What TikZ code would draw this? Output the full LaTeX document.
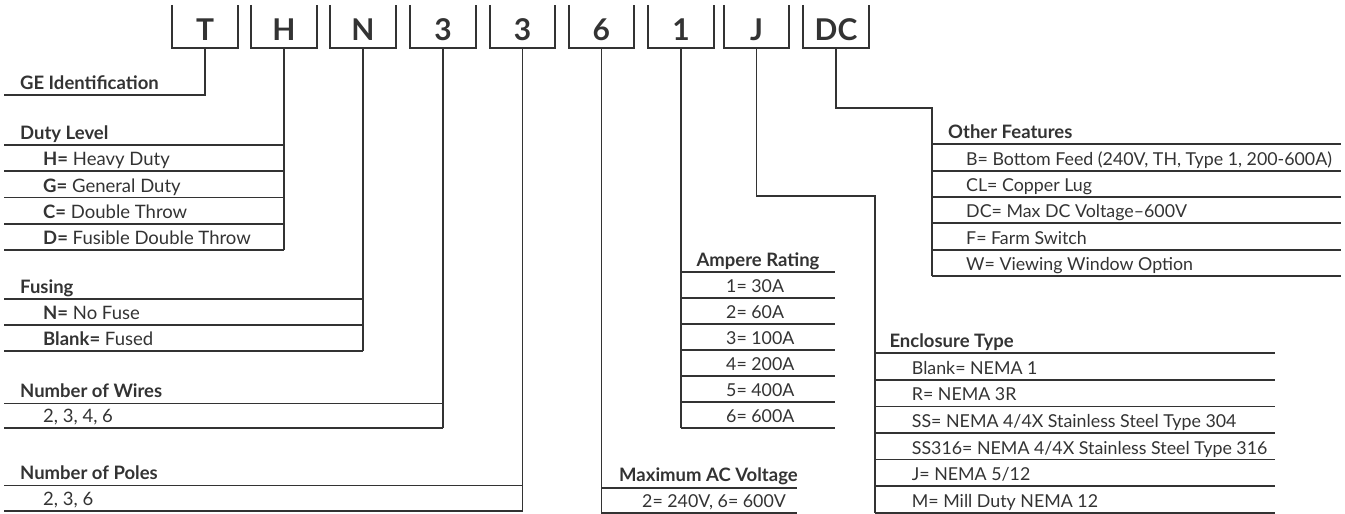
\documentclass[tikz,border=0pt]{standalone}
\usepackage{fontspec}
\setmainfont{Lato}
\definecolor{ink}{HTML}{333333}
\begin{document}
\begin{tikzpicture}[x=1pt,y=-1pt,
  ln/.style={draw=ink,line width=1.8pt},
  topbox/.style={font=\fontsize{30}{30}\selectfont\bfseries,text=ink,text height=35.7pt,text depth=7pt,inner sep=0pt,minimum width=65pt},
  hdr/.style={font=\fontsize{18.5}{20}\selectfont\bfseries,text=ink,anchor=base west,inner sep=0pt},
  hdrc/.style={hdr,anchor=base},
  row/.style={font=\fontsize{18.5}{20}\selectfont,text=ink,anchor=base west,inner sep=0pt},
  rowr/.style={row,font=\fontsize{17.8}{20}\selectfont}]
\useasboundingbox (0,0) rectangle (1345,514);
% top code boxes
\node[topbox] (bT)  at (205,26.35)   {T};
\node[topbox] (bH)  at (284,26.35)   {H};
\node[topbox] (bN)  at (363,26.35)   {N};
\node[topbox] (b3a) at (443,26.35)   {3};
\node[topbox] (b3b) at (522.5,26.35) {3};
\node[topbox] (b6)  at (601.4,26.35) {6};
\node[topbox] (b1)  at (681,26.35)   {1};
\node[topbox] (bJ)  at (756.5,26.35) {J};
\node[topbox] (bDC) at (836,26.35)   {DC};
\foreach \b in {bT,bH,bN,b3a,b3b,b6,b1,bJ,bDC}
  \draw[ln] (\b.north west) -- (\b.south west) -- (\b.south east) -- (\b.north east);

% GE Identification
\coordinate (geL) at (4,95);
\draw[ln] (bT.south) |- (geL);
\node[hdr] (hGE) at (20,89) {GE Identification};

% Duty Level
\draw[ln] (bH.south) -- (bH.south |- 0,250);
\foreach \y in {145,171.25,197.5,223.75,250}
  \draw[ln] (4,\y) -- (bH.south |- 0,\y);
\node[hdr] (hDuty) at (20,139) {Duty Level};
\node[row] (d1) at (43,165.75) {\textbf{H=} Heavy Duty};
\node[row] (d2) at (43,192)    {\textbf{G=} General Duty};
\node[row] (d3) at (43,218.25) {\textbf{C=} Double Throw};
\node[row] (d4) at (43,244.5)  {\textbf{D=} Fusible Double Throw};

% Fusing
\draw[ln] (bN.south) -- (bN.south |- 0,351);
\foreach \y in {299,325,351}
  \draw[ln] (4,\y) -- (bN.south |- 0,\y);
\node[hdr] (hFus) at (20,293) {Fusing};
\node[row] (f1) at (43,319.5) {\textbf{N=} No Fuse};
\node[row] (f2) at (43,345.5) {\textbf{Blank=} Fused};

% Number of Wires
\draw[ln] (b3a.south) -- (b3a.south |- 0,428);
\foreach \y in {403.5,428}
  \draw[ln] (4,\y) -- (b3a.south |- 0,\y);
\node[hdr] (hWir) at (20,397.5) {Number of Wires};
\node[row] (w1) at (43,422.5) {2, 3, 4, 6};

% Number of Poles
\draw[ln] (b3b.south) -- (b3b.south |- 0,510.7);
\foreach \y in {485.5,510.7}
  \draw[ln] (4,\y) -- (b3b.south |- 0,\y);
\node[hdr] (hPol) at (20,479.5) {Number of Poles};
\node[row] (p1) at (43,505.2) {2, 3, 6};

% Maximum AC Voltage
\draw[ln] (b6.south) -- (b6.south |- 0,513.3);
\foreach \y in {487.7,513.3}
  \draw[ln] (b6.south |- 0,\y) -- (797,\y);
\node[hdr] (hMax) at (619,481.7) {Maximum AC Voltage};
\node[rowr] (m1) at (642,507.8) {2= 240V, 6= 600V};

% Ampere Rating
\draw[ln] (b1.south) -- (b1.south |- 0,427.7);
\foreach \y in {272,297.95,323.9,349.85,375.8,401.75,427.7}
  \draw[ln] (b1.south |- 0,\y) -- (835,\y);
\node[hdrc] (hAmp) at (758,266) {Ampere Rating};
\node[rowr] (a1) at (726,292.45) {1= 30A};
\node[rowr] (a2) at (726,318.4)  {2= 60A};
\node[rowr] (a3) at (726,344.35) {3= 100A};
\node[rowr] (a4) at (726,370.3)  {4= 200A};
\node[rowr] (a5) at (726,396.25) {5= 400A};
\node[rowr] (a6) at (726,422.2)  {6= 600A};

% Enclosure Type
\coordinate (encTop) at (875,196);
\coordinate (encBot) at (875,512.7);
\draw[ln] (bJ.south) |- (encTop) -- (encBot);
\foreach \y in {353.3,379.87,406.44,433.01,459.58,486.15,512.7}
  \draw[ln] (encTop |- 0,\y) -- (1275,\y);
\node[hdr] (hEnc) at (889.3,347.3) {Enclosure Type};
\node[rowr] (e1) at (911.7,374.37) {Blank= NEMA 1};
\node[rowr] (e2) at (911.7,400.94) {R= NEMA 3R};
\node[rowr] (e3) at (911.7,427.51) {SS= NEMA 4/4X Stainless Steel Type 304};
\node[rowr] (e4) at (911.7,454.08) {SS316= NEMA 4/4X Stainless Steel Type 316};
\node[rowr] (e5) at (911.7,480.65) {J= NEMA 5/12};
\node[rowr] (e6) at (911.7,507.2)  {M= Mill Duty NEMA 12};

% Other Features
\coordinate (ofTop) at (932,108);
\coordinate (ofBot) at (932,276);
\draw[ln] (bDC.south) |- (ofTop) -- (ofBot);
\foreach \y in {144.3,170.64,196.98,223.32,249.66,276}
  \draw[ln] (ofTop |- 0,\y) -- (1341,\y);
\node[hdr] (hOth) at (948,138.3) {Other Features};
\node[rowr] (o1) at (966,165.14) {B= Bottom Feed (240V, TH, Type 1, 200-600A)};
\node[rowr] (o2) at (966,191.48) {CL= Copper Lug};
\node[rowr] (o3) at (966,217.82) {DC= Max DC Voltage–600V};
\node[rowr] (o4) at (966,244.16) {F= Farm Switch};
\node[rowr] (o5) at (966,270.5)  {W= Viewing Window Option};
\end{tikzpicture}
\end{document}
